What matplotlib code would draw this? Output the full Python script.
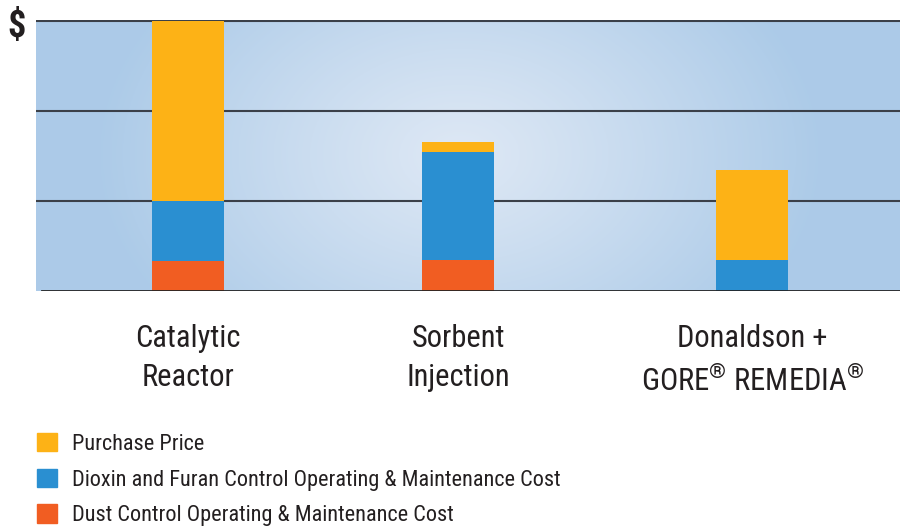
import numpy as np
import matplotlib
matplotlib.use('Agg')
import matplotlib.pyplot as plt
from matplotlib.patches import Patch

plt.rcParams['font.family'] = ['Roboto Condensed', 'Barlow Semi Condensed', 'DejaVu Sans']
plt.rcParams['mathtext.fontset'] = 'custom'
plt.rcParams['mathtext.rm'] = 'Roboto Condensed'

categories = ['Catalytic\nReactor', 'Sorbent\nInjection',
              'Donaldson +\nGORE$^{®}$ REMEDIA$^{®}$']
dust_cost = [0.33, 0.34, 0.0]
dioxin_cost = [0.67, 1.20, 0.34]
purchase_price = [2.00, 0.12, 1.00]
series_labels = ['Purchase Price',
                 'Dioxin and Furan Control Operating & Maintenance Cost',
                 'Dust Control Operating & Maintenance Cost']
colors = {'purchase': '#fdb216', 'dioxin': '#2a8fd1', 'dust': '#f15d22'}

positions = [0, 1, 2.09]

fig = plt.figure(figsize=(9.01, 5.27), dpi=100)
ax = fig.add_axes([36 / 901, (527 - 291) / 527, (900 - 36) / 901, (291 - 20) / 527])

xlim = (-0.563, 2.637)
ylim = (0, 3.01)

# radial background gradient
gx, gy = np.meshgrid(np.linspace(0, 1, 400), np.linspace(0, 1, 200))
r = np.sqrt(((gx - 0.49) / 0.42) ** 2 + ((gy - 0.5) / 0.95) ** 2)
r = np.clip(r, 0, 1)
c0 = np.array([0.87, 0.91, 0.96])
c1 = np.array([0.675, 0.795, 0.91])
img = c0 + (c1 - c0) * r[..., None] ** 1.1
ax.imshow(img, extent=(xlim[0], xlim[1], ylim[0], ylim[1]), aspect='auto',
          origin='lower', zorder=0)

for yv in [1, 2, 3]:
    ax.axhline(yv, color='#3b4049', lw=1.5, zorder=1)
ax.axhline(0, xmin=0.007, color='#222222', lw=2, zorder=3)

w = 0.267
bottom2 = np.array(dust_cost) + np.array(dioxin_cost)
ax.bar(positions, dust_cost, w, color=colors['dust'], zorder=2)
ax.bar(positions, dioxin_cost, w, bottom=dust_cost, color=colors['dioxin'], zorder=2)
ax.bar(positions, purchase_price, w, bottom=bottom2, color=colors['purchase'], zorder=2)

ax.set_xlim(*xlim)
ax.set_ylim(*ylim)
ax.set_xticks(positions)
ax.set_xticklabels(categories, fontsize=22, color='#231f20', linespacing=1.41)
ax.tick_params(axis='x', length=0, pad=24)
ax.set_yticks([])
for s in ax.spines.values():
    s.set_visible(False)

fig.text(7 / 901, 1 - 37 / 527, '$', fontsize=26, fontweight='bold',
         color='#231f20')

handles = [Patch(color=colors['purchase']), Patch(color=colors['dioxin']),
           Patch(color=colors['dust'])]
fig.legend(handles, series_labels, loc='upper left',
           bbox_to_anchor=(17 / 901, 1 - 413 / 527), frameon=False,
           fontsize=16, handlelength=0.9, handleheight=0.9,
           labelspacing=0.62, handletextpad=0.68, labelcolor='#231f20')

fig.savefig('out.png', dpi=100)
